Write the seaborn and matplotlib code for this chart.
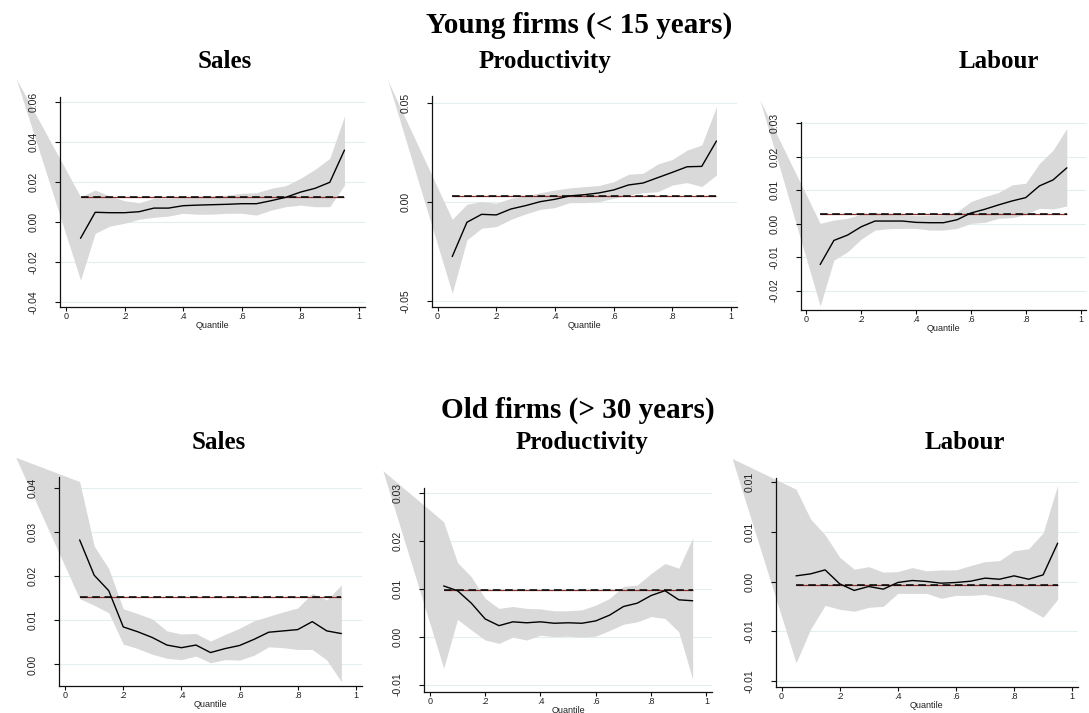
import numpy as np
import pandas as pd
import seaborn as sns
import matplotlib.pyplot as plt

sns.set_theme(style="white")
plt.rcParams["font.family"] = ["Liberation Sans", "DejaVu Sans"]

# ---------------- data ----------------
quantiles = [0.05, 0.10, 0.15, 0.20, 0.25, 0.30, 0.35, 0.40, 0.45, 0.50,
             0.55, 0.60, 0.65, 0.70, 0.75, 0.80, 0.85, 0.90, 0.95]
# the confidence band polygon starts at a stray point left of the axis
band_start_q = -0.17

row_titles = ["Young firms (< 15 years)", "Old firms (> 30 years)"]
panel_titles = ["Sales", "Productivity", "Labour"]
x_ticks = [0, 0.2, 0.4, 0.6, 0.8, 1.0]
x_ticklabels = ["0", ".2", ".4", ".6", ".8", "1"]

# Young firms - Sales
ys_coef = [-0.0083, 0.0047, 0.0045, 0.0045, 0.0050, 0.0068, 0.0068, 0.0080, 0.0083, 0.0085,
           0.0087, 0.0090, 0.0090, 0.0105, 0.0122, 0.0148, 0.0167, 0.0197, 0.0358]
ys_hi = [0.0125, 0.0158, 0.0128, 0.0105, 0.0095, 0.0117, 0.0117, 0.0122, 0.0128, 0.0128,
         0.0133, 0.0142, 0.0145, 0.0167, 0.0180, 0.0217, 0.0262, 0.0317, 0.0528]
ys_lo = [-0.0292, -0.0058, -0.0022, -0.0008, 0.0012, 0.0022, 0.0028, 0.0042, 0.0037, 0.0038,
         0.0042, 0.0042, 0.0033, 0.0058, 0.0075, 0.0083, 0.0075, 0.0075, 0.0183]
ys_ols = 0.0123
ys_start = 0.0717
ys_yticks = [-0.04, -0.02, 0.00, 0.02, 0.04, 0.06]
ys_yticklabels = ["-0.04", "-0.02", "0.00", "0.02", "0.04", "0.06"]

# Young firms - Productivity
yp_coef = [-0.0277, -0.0104, -0.0064, -0.0067, -0.0037, -0.0020, 0.0000, 0.0012, 0.0029, 0.0035,
           0.0044, 0.0059, 0.0084, 0.0094, 0.0121, 0.0148, 0.0176, 0.0178, 0.0306]
yp_hi = [-0.0089, -0.0013, 0.0000, -0.0008, 0.0017, 0.0029, 0.0045, 0.0059, 0.0069, 0.0076,
         0.0081, 0.0101, 0.0138, 0.0143, 0.0190, 0.0213, 0.0260, 0.0286, 0.0479]
yp_lo = [-0.0462, -0.0193, -0.0134, -0.0126, -0.0089, -0.0062, -0.0039, -0.0030, -0.0005, -0.0005,
         0.0000, 0.0017, 0.0034, 0.0045, 0.0050, 0.0084, 0.0096, 0.0076, 0.0134]
yp_ols = 0.0027
yp_start = 0.0613
yp_yticks = [-0.05, 0.00, 0.05]
yp_yticklabels = ["-0.05", "0.00", "0.05"]

# Young firms - Labour
yl_coef = [-0.0122, -0.0050, -0.0034, -0.0009, 0.0008, 0.0008, 0.0008, 0.0004, 0.0003, 0.0003,
           0.0012, 0.0032, 0.0043, 0.0056, 0.0068, 0.0078, 0.0113, 0.0131, 0.0167]
yl_hi = [0.0001, 0.0011, 0.0016, 0.0029, 0.0034, 0.0029, 0.0027, 0.0024, 0.0025, 0.0026,
         0.0036, 0.0066, 0.0081, 0.0093, 0.0116, 0.0121, 0.0180, 0.0220, 0.0285]
yl_lo = [-0.0246, -0.0109, -0.0084, -0.0046, -0.0019, -0.0015, -0.0014, -0.0014, -0.0019, -0.0019,
         -0.0014, 0.0001, 0.0004, 0.0016, 0.0018, 0.0028, 0.0046, 0.0044, 0.0053]
yl_ols = 0.0028
yl_start = 0.0370
yl_yticks = [-0.02, -0.01, 0.00, 0.01, 0.02, 0.03]
yl_yticklabels = ["-0.02", "-0.01", "0.00", "0.01", "0.02", "0.03"]

# Old firms - Sales
os_coef = [0.0282, 0.0202, 0.0167, 0.0085, 0.0074, 0.0061, 0.0044, 0.0038, 0.0044, 0.0027,
           0.0036, 0.0043, 0.0057, 0.0073, 0.0076, 0.0079, 0.0097, 0.0076, 0.0070]
os_hi = [0.0414, 0.0268, 0.0217, 0.0126, 0.0115, 0.0103, 0.0076, 0.0069, 0.0070, 0.0053,
         0.0068, 0.0082, 0.0099, 0.0109, 0.0119, 0.0128, 0.0161, 0.0146, 0.0180]
os_lo = [0.0149, 0.0134, 0.0117, 0.0046, 0.0036, 0.0023, 0.0014, 0.0011, 0.0019, 0.0004,
         0.0011, 0.0010, 0.0021, 0.0040, 0.0038, 0.0034, 0.0034, 0.0010, -0.0039]
os_ols = 0.0152
os_start = 0.0469
os_yticks = [0.00, 0.01, 0.02, 0.03, 0.04]
os_yticklabels = ["0.00", "0.01", "0.02", "0.03", "0.04"]

# Old firms - Productivity
op_coef = [0.0106, 0.0096, 0.0070, 0.0037, 0.0023, 0.0031, 0.0029, 0.0031, 0.0028, 0.0029,
           0.0028, 0.0033, 0.0045, 0.0063, 0.0070, 0.0086, 0.0096, 0.0077, 0.0075]
op_hi = [0.0240, 0.0155, 0.0125, 0.0080, 0.0059, 0.0063, 0.0059, 0.0058, 0.0054, 0.0054,
         0.0056, 0.0066, 0.0080, 0.0105, 0.0108, 0.0132, 0.0153, 0.0143, 0.0206]
op_lo = [-0.0066, 0.0036, 0.0014, -0.0007, -0.0014, -0.0001, -0.0007, 0.0003, 0.0000, 0.0001,
         -0.0001, 0.0001, 0.0013, 0.0026, 0.0031, 0.0042, 0.0038, 0.0010, -0.0089]
op_ols = 0.0098
op_start = 0.0347
op_yticks = [-0.01, 0.00, 0.01, 0.02, 0.03]
op_yticklabels = ["-0.01", "0.00", "0.01", "0.02", "0.03"]

# Old firms - Labour
ol_coef = [0.00057, 0.00077, 0.00117, -0.00023, -0.00090, -0.00050, -0.00077, -0.00010, 0.00010, 0.00000,
           -0.00017, -0.00010, 0.00003, 0.00034, 0.00023, 0.00057, 0.00023, 0.00067, 0.00386]
ol_hi = [0.0093, 0.0063, 0.0047, 0.00245, 0.00124, 0.0015, 0.00094, 0.0010, 0.0014, 0.00107,
         0.00117, 0.00117, 0.0016, 0.0020, 0.0021, 0.0031, 0.0033, 0.0049, 0.0097]
ol_lo = [-0.0082, -0.0048, -0.0024, -0.0028, -0.0030, -0.0026, -0.0025, -0.0012, -0.0012, -0.0012,
         -0.0017, -0.0014, -0.0014, -0.0013, -0.0016, -0.0020, -0.0028, -0.0036, -0.0018]
ol_ols = -0.00037
ol_start = 0.0124
ol_yticks = [-0.01, -0.005, 0.00, 0.005, 0.01]
ol_yticklabels = ["-0.01", "-0.01", "0.00", "0.01", "0.01"]

# ---------------- layout (pixels) ----------------
W, H = 1089, 713
fig = plt.figure(figsize=(W / 100, H / 100), dpi=100)
fig.patch.set_facecolor("white")


def px_axes(left, right, top, bottom):
    return fig.add_axes([left / W, 1 - bottom / H, (right - left) / W, (bottom - top) / H])


panels = [
    (px_axes(60, 365, 96.7, 306.7), ys_coef, ys_lo, ys_hi, ys_ols, ys_start, ys_yticks, ys_yticklabels, (-0.0425, 0.0625)),
    (px_axes(431.7, 737, 96, 307.3), yp_coef, yp_lo, yp_hi, yp_ols, yp_start, yp_yticks, yp_yticklabels, (-0.0533, 0.0533)),
    (px_axes(801, 1086, 121.7, 310), yl_coef, yl_lo, yl_hi, yl_ols, yl_start, yl_yticks, yl_yticklabels, (-0.0258, 0.0305)),
    (px_axes(59.3, 361.7, 476.7, 685.7), os_coef, os_lo, os_hi, os_ols, os_start, os_yticks, os_yticklabels, (-0.0048, 0.0425)),
    (px_axes(424.3, 712, 488.3, 691.7), op_coef, op_lo, op_hi, op_ols, op_start, op_yticks, op_yticklabels, (-0.0115, 0.0310)),
    (px_axes(775.7, 1078, 478.3, 686.7), ol_coef, ol_lo, ol_hi, ol_ols, ol_start, ol_yticks, ol_yticklabels, (-0.0106, 0.0104)),
]

for ax, coef, lo, hi, ols, start, yt, ytl, ylim in panels:
    ax.set_facecolor("none")
    ax.grid(False)
    for t in yt:
        ax.axhline(t, color="#e4eef0", lw=0.8, zorder=0.5)
    band_q = [band_start_q] + quantiles
    ax.fill_between(band_q, [start] + lo, [start] + hi, color="#d9d9d9", lw=0,
                    clip_on=False, zorder=1)
    sns.lineplot(x=quantiles, y=coef, ax=ax, color="black", lw=1.0, zorder=4)
    ax.hlines(ols, quantiles[0], quantiles[-1], colors="#8a3030", lw=0.9, zorder=3)
    ax.hlines(ols, quantiles[0], quantiles[-1], colors="black", lw=1.1,
              linestyles=(0, (5, 3)), zorder=3.5)
    ax.set_xlim(-0.02, 1.02)
    ax.set_ylim(*ylim)
    ax.set_xticks(x_ticks)
    ax.set_xticklabels(x_ticklabels)
    ax.set_yticks(yt)
    ax.set_yticklabels(ytl, rotation=90, va="center")
    ax.xaxis.set_zorder(2.5)
    ax.yaxis.set_zorder(2.5)
    for s in ["top", "right"]:
        ax.spines[s].set_visible(False)
    for s in ["left", "bottom"]:
        ax.spines[s].set_color("#111111")
        ax.spines[s].set_linewidth(0.9)
        ax.spines[s].set_zorder(5)
    ax.tick_params(axis="x", length=3, width=0.8, color="#111111", pad=0.5,
                   labelsize=6.5, labelcolor="#222222", direction="out", bottom=True)
    ax.tick_params(axis="y", length=3.5, width=0.8, color="#111111", pad=12,
                   labelsize=7.5, labelcolor="#222222", direction="out", left=True)
    ax.set_xlabel("Quantile", fontsize=6.5, labelpad=0, color="#222222")
    ax.set_ylabel("")

serif = ["Liberation Serif", "DejaVu Serif"]
fig.text(579 / W, 1 - 33 / H, row_titles[0], ha="center", va="baseline",
         fontsize=21, fontweight="bold", family=serif, color="black")
fig.text(578 / W, 1 - 418 / H, row_titles[1], ha="center", va="baseline",
         fontsize=21, fontweight="bold", family=serif, color="black")
for cx, name in zip([225, 545, 999], panel_titles):
    fig.text(cx / W, 1 - 68 / H, name, ha="center", va="baseline",
             fontsize=18, fontweight="bold", family=serif, color="black")
for cx, name in zip([219, 582, 965], panel_titles):
    fig.text(cx / W, 1 - 449 / H, name, ha="center", va="baseline",
             fontsize=18, fontweight="bold", family=serif, color="black")

fig.savefig("out.png", dpi=100)
